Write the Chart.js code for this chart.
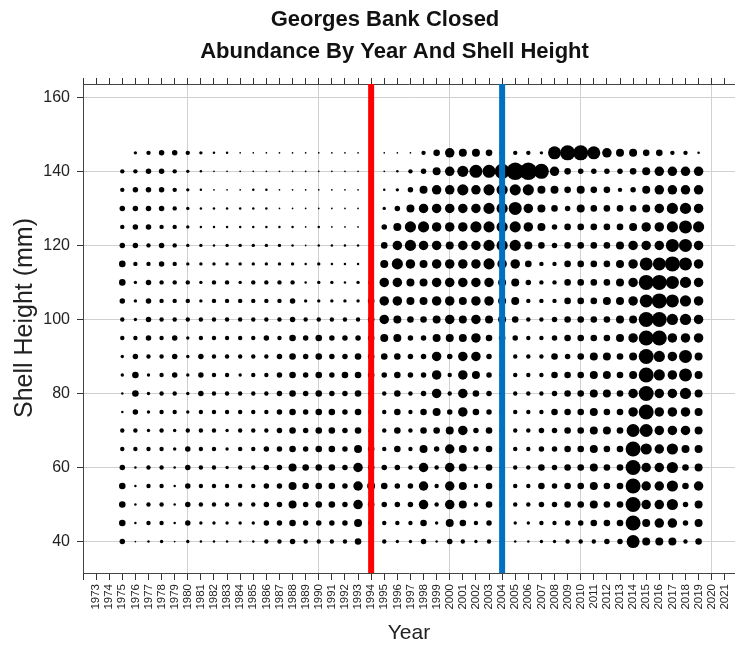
<!DOCTYPE html>
<html>
<head>
<meta charset="utf-8">
<script src="https://cdn.jsdelivr.net/npm/chart.js@4.4.1/dist/chart.umd.min.js"></script>
<style>
  html, body { margin: 0; padding: 0; background: #fff; }
  canvas { display: block; }
</style>
</head>
<body>
<canvas id="abundanceChart" width="735" height="647"></canvas>
<script>
Chart.defaults.font.family = "'Liberation Sans', Arial, sans-serif";
Chart.defaults.color = '#222';

const titleLines = ['Georges Bank Closed', 'Abundance By Year And Shell Height'];
const yAxisTitle = 'Shell Height (mm)';

const years = [1975, 1976, 1977, 1978, 1979, 1980, 1981, 1982, 1983, 1984, 1985, 1986, 1987, 1988, 1989,
    1990, 1991, 1992, 1993, 1994, 1995, 1996, 1997, 1998, 1999, 2000, 2001, 2002, 2003, 2004,
    2005, 2006, 2007, 2008, 2009, 2010, 2011, 2012, 2013, 2014, 2015, 2016, 2017, 2018, 2019];

const shellHeights = [40, 45, 50, 55, 60, 65, 70, 75, 80, 85, 90, 95, 100, 105, 110, 115, 120, 125, 130, 135, 140, 145];

const yTickValues = [40, 60, 80, 100, 120, 140, 160];

// abundance class (0 = none, 1..c = small..large), one char per shell height 40 -> 145 mm
const abundanceClass = [
    '56665 44223 34456 65454 40', // 1975
    '12222 44566 54333 45555 43',
    '24444 43333 45555 44555 54',
    '34444 44444 44444 55455 55',
    '12222 33445 55444 44444 45',
    '35555 54333 33444 33333 34', // 1980
    '23444 44455 54433 33222 23',
    '23444 44444 44444 32221 12',
    '23443 33444 44444 33221 12',
    '23444 44443 44443 33221 11',
    '23444 44444 44444 33222 11', // 1985
    '45555 54444 45444 33222 11',
    '45555 55555 54444 33211 11',
    '56777 66666 66554 32211 11',
    '45566 55555 55432 21111 11',
    '45666 66666 66433 32211 11', // 1990
    '45666 66655 55433 22111 11',
    '45555 55556 55432 22111 11',
    '67888 76666 65433 22111 11',
    '45676 65556 66665 44321 11',
    '44565 44445 67888 76532 11', // 1995
    '34555 66666 67788 98753 21',
    '34554 44445 55677 89975 41',
    '56888 76655 55677 78987 54',
    '23444 56788 87788 88888 76',
    '57888 87544 57888 87888 88', // 2000
    '46777 78888 87778 88889 97',
    '34444 55667 88888 88988 a7',
    '45666 66555 56788 99999 a6',
    '34555 55555 56777 89999 b5',
    '23444 44444 45677 899a9 c4', // 2005
    '23444 44444 44445 67889 c4',
    '34566 55444 44444 46777 b3',
    '34555 55656 65544 45567 8a',
    '45666 66666 56666 66656 6b',
    '45666 66666 66666 66677 5b', // 2010
    '46777 77777 76666 66666 5a',
    '56666 67677 76676 66666 58',
    '56666 66666 67777 77664 57',
    'abbbb ba887 78788 88765 67',
    '77888 9abbb bbbab a8877 76', // 2015
    '78888 88889 9bbbb a8888 86',
    '78999 98888 889aa ba998 84',
    '45566 7889a a8999 aaa98 84',
    '67787 77777 78888 88988 82'
];

const closureYears = [1994, 2004];
const closureColors = ['#ff0000', '#0070c0'];

const X_MIN = 1972, X_MAX = 2021.78;
const Y_MIN = 31.5, Y_MAX = 163.6;
const classDiameter = [0, 1.7, 2.5, 3.4, 4.4, 5.5, 6.6, 8.0, 9.5, 11.2, 13, 15, 17.5];

const bubbles = [];
years.forEach((year, i) => {
    const codes = abundanceClass[i].replace(/ /g, '');
    shellHeights.forEach((h, j) => {
        const c = parseInt(codes[j], 16);
        if (c > 0) bubbles.push({ x: year, y: h, r: classDiameter[c] / 2 });
    });
});

const closureLines = closureYears.map((yr, i) => ({
    type: 'line',
    data: [{ x: yr, y: Y_MIN }, { x: yr, y: Y_MAX }],
    borderColor: closureColors[i],
    borderWidth: 6,
    borderCapStyle: 'butt',
    pointRadius: 0,
    order: 0
}));

const yearTicks = scale => {
    const ticks = [];
    for (let v = X_MIN; v <= X_MAX; v++) ticks.push({ value: v });
    scale.ticks = ticks;
};
const noPadding = scale => {
    scale.paddingLeft = 0; scale.paddingRight = 0;
    scale.paddingTop = 0; scale.paddingBottom = 0;
};

const titlePlugin = {
    id: 'titles',
    afterDraw(chart) {
        const ctx = chart.ctx;
        ctx.save();
        ctx.fillStyle = '#111';
        ctx.font = "bold 22px 'Liberation Sans', Arial, sans-serif";
        ctx.textAlign = 'center';
        ctx.textBaseline = 'alphabetic';
        ctx.fillText(titleLines[0], 385, 26);
        ctx.fillText(titleLines[1], 394.5, 58);

        ctx.fillStyle = '#222';
        ctx.font = "25px 'Liberation Sans', Arial, sans-serif";
        ctx.textBaseline = 'middle';
        ctx.translate(25, 318);
        ctx.rotate(-Math.PI / 2);
        ctx.fillText(yAxisTitle, 0, 0);
        ctx.restore();
    }
};

new Chart(document.getElementById('abundanceChart').getContext('2d'), {
    type: 'bubble',
    data: {
        datasets: [
            ...closureLines,
            {
                data: bubbles,
                backgroundColor: '#000',
                borderWidth: 0,
                order: 1
            }
        ]
    },
    options: {
        responsive: false,
        animation: false,
        events: [],
        layout: { autoPadding: false, padding: { top: 78, left: 0, right: 0, bottom: 0 } },
        plugins: {
            legend: { display: false },
            tooltip: { enabled: false }
        },
        scales: {
            x: {
                type: 'linear',
                position: 'bottom',
                min: X_MIN,
                max: X_MAX,
                afterBuildTicks: yearTicks,
                afterFit: s => { s.height = 74; noPadding(s); },
                ticks: {
                    autoSkip: false,
                    minRotation: 90,
                    maxRotation: 90,
                    padding: 4,
                    font: { size: 11.5 },
                    color: '#222',
                    callback: v => (v >= 1973 ? String(v) : '')
                },
                grid: {
                    color: ctx => (ctx.tick && ctx.tick.value % 10 === 0 ? '#d0d0d0' : 'rgba(0,0,0,0)'),
                    tickColor: '#333',
                    tickLength: 7
                },
                border: { color: '#444' },
                title: {
                    display: true,
                    text: 'Year',
                    font: { size: 21 },
                    color: '#222',
                    padding: { top: 0, bottom: 1 }
                }
            },
            x2: {
                type: 'linear',
                position: 'top',
                min: X_MIN,
                max: X_MAX,
                afterBuildTicks: yearTicks,
                afterFit: s => { s.height = 6; noPadding(s); },
                ticks: { display: false, autoSkip: false },
                grid: { drawOnChartArea: false, tickColor: '#333', tickLength: 6 },
                border: { color: '#444' }
            },
            y: {
                type: 'linear',
                min: Y_MIN,
                max: Y_MAX,
                afterBuildTicks: s => { s.ticks = yTickValues.map(v => ({ value: v })); },
                afterFit: s => { s.width = 83; noPadding(s); },
                ticks: { padding: 7, font: { size: 16 }, color: '#222' },
                grid: { color: '#d0d0d0', tickColor: '#333', tickLength: 6 },
                border: { color: '#444' }
            }
        }
    },
    plugins: [titlePlugin]
});
</script>
</body>
</html>
